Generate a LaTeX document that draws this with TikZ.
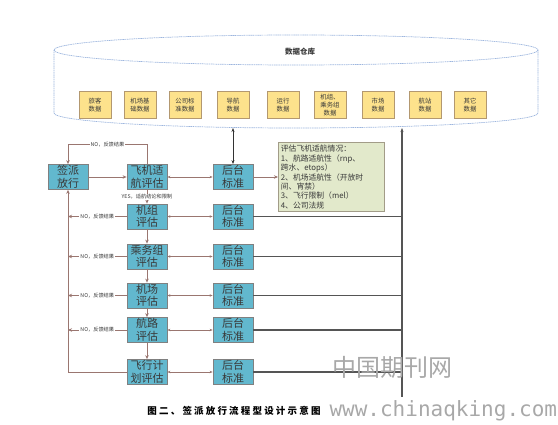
\documentclass[tikz,border=0pt]{standalone}
\usepackage{fontspec}
\newfontfamily\cjk{Noto Sans CJK SC}
\newfontfamily\wmfont{DejaVu Sans Mono}
\usetikzlibrary{arrows.meta,calc}
\definecolor{dbblue}{HTML}{9DB6DE}
\definecolor{datafill}{HTML}{FDE28C}
\definecolor{dataedge}{HTML}{B39870}
\definecolor{flowteal}{HTML}{62B8CE}
\definecolor{flowedge}{HTML}{808080}
\definecolor{notefill}{HTML}{E2E9CB}
\definecolor{noteedge}{HTML}{A29C88}
\definecolor{linkbrown}{HTML}{9A7670}
\definecolor{busgrey}{HTML}{555555}
\definecolor{inkgrey}{HTML}{3A3A3A}
\definecolor{markgrey}{HTML}{A8A8A8}

\begin{document}
\begin{tikzpicture}[x=1pt,y=-1pt,
  font=\cjk,
  dbline/.style={draw=dbblue,line width=0.7pt,dash pattern=on 1.2pt off 0.6pt},
  datanode/.style={rectangle,draw=dataedge,line width=0.8pt,fill=datafill,minimum width=32pt,minimum height=27pt,inner sep=0pt,align=center,text=inkgrey,font=\cjk\fontsize{6.4}{7.8}\selectfont},
  flownode/.style={rectangle,draw=flowedge,line width=0.8pt,fill=flowteal,minimum width=40pt,minimum height=25pt,inner sep=0pt,align=center,text=inkgrey,font=\cjk\fontsize{11}{12.5}\selectfont},
  notebox/.style={rectangle,draw=noteedge,line width=0.8pt,fill=notefill,text width=101pt,minimum height=68pt,inner sep=2.5pt,align=left,text=inkgrey,font=\cjk\fontsize{7.8}{9.4}\selectfont},
  arr/.style={-{Stealth[length=4pt,width=3.5pt]},line width=0.7pt,linkbrown},
  biarr/.style={{Stealth[length=3pt,width=2.5pt]}-{Stealth[length=3pt,width=2.5pt]},line width=0.7pt,linkbrown},
  dbarr/.style={{Stealth[length=4pt,width=3pt]}-{Stealth[length=4pt,width=3pt]},line width=0.8pt,black!80},
  busline/.style={line width=1.2pt,busgrey},
  arrlabel/.style={font=\cjk\fontsize{5.2}{6}\selectfont,text=inkgrey,fill=white,inner xsep=1pt,inner ysep=0.5pt},
]
\useasboundingbox (0,0) rectangle (558,425);

% Data warehouse (top)
\draw[dbline] (296,50) ellipse [x radius=242, y radius=15];
\draw[dbline] (54,50) -- (54,113) arc[start angle=180,end angle=360,x radius=242pt,y radius=15pt] -- (538,50);
\node[font=\cjk\bfseries\fontsize{7.5}{8}\selectfont,text=inkgrey] (dbtitle) at (300,52) {数据仓库};
\node[datanode] (pax)    at (95,105)  {旅客\\数据};
\node[datanode] (aptdat) at (140,105) {机场基\\础数据};
\node[datanode] (coydat) at (185,105) {公司标\\准数据};
\node[datanode] (navdat) at (233,105) {导航\\数据};
\node[datanode] (opsdat) at (283,105) {运行\\数据};
\node[datanode] (crwdat) at (330,105) {机组、\\乘务组\\数据};
\node[datanode] (mktdat) at (378,105) {市场\\数据};
\node[datanode] (stndat) at (425,105) {航站\\数据};
\node[datanode] (othdat) at (470,105) {其它\\数据};
\coordinate (dbbot1) at (233,128);
\coordinate (dbbot2) at (402,128);
\coordinate (busend) at (402,397);
\coordinate (fbline) at (68,300);

% Evaluation chain (left)
\node[flownode] (sign)  at (68,177)    {签派\\放行};
\node[flownode] (air)   at (147,177)   {飞机适\\航评估};
\node[flownode] (crew)  at (147,216.5) {机组\\评估};
\node[flownode] (cabin) at (147,256.5) {乘务组\\评估};
\node[flownode] (apt)   at (147,295.5) {机场\\评估};
\node[flownode] (route) at (147,330)   {航路\\评估};
\node[flownode] (plan)  at (147,372)   {飞行计\\划评估};
\draw[arr] (sign) -- (air);
\draw[arr] (air.north) -- ++(0,-20) -| node[arrlabel,pos=0.25]{NO，反馈结果} (sign.north);
\draw[arr] (air)   -- node[arrlabel]{YES，适航结论和限制} (crew);
\draw[arr] (crew)  -- (cabin);
\draw[arr] (cabin) -- (apt);
\draw[arr] (apt)   -- (route);
\draw[arr] (route) -- (plan);
\draw[arr] (crew.west)  -- node[arrlabel]{NO，反馈结果} (crew.west -| fbline);
\draw[arr] (cabin.west) -- node[arrlabel]{NO，反馈结果} (cabin.west -| fbline);
\draw[arr] (apt.west)   -- node[arrlabel]{NO，反馈结果} (apt.west -| fbline);
\draw[arr] (route.west) -- node[arrlabel]{NO，反馈结果} (route.west -| fbline);
\draw[arr] (plan.west) -| (sign.south);

% Back-office standards (middle)
\node[flownode] (std1) at (233,177)   {后台\\标准};
\node[flownode] (std2) at (233,216.5) {后台\\标准};
\node[flownode] (std3) at (233,256.5) {后台\\标准};
\node[flownode] (std4) at (233,295.5) {后台\\标准};
\node[flownode] (std5) at (233,330)   {后台\\标准};
\node[flownode] (std6) at (233,372)   {后台\\标准};
\draw[biarr] (air)   -- (std1);
\draw[biarr] (crew)  -- (std2);
\draw[biarr] (cabin) -- (std3);
\draw[biarr] (apt)   -- (std4);
\draw[biarr] (route) -- (std5);
\draw[biarr] (plan)  -- (std6);
\draw[dbarr] (std1) -- (dbbot1);
\node[notebox,anchor=west] (note) at (278,177) {评估飞机适航情况：\\1、航路适航性（rnp、\\跨水、etops）\\2、机场适航性（开放时\\间、宵禁）\\3、飞行限制（mel）\\4、公司法规};
\draw[arr] (std1) -- (note);

% Data bus (right)
\draw[busline,-{Stealth[length=4pt,width=3pt]}] (busend) -- (dbbot2);
\draw[busline] (std2.east) -- (std2.east -| busend);
\draw[busline] (std3.east) -- (std3.east -| busend);
\draw[busline] (std4.east) -- (std4.east -| busend);
\draw[busline] (std5.east) -- (std5.east -| busend);
\draw[busline] (std6.east) -- (std6.east -| busend);

% Caption and watermark
\node[font=\cjk\bfseries\fontsize{9.5}{10}\selectfont\addfontfeature{LetterSpace=23},text=black] (caption) at (234,411) {图二、签派放行流程型设计示意图};
\node[font=\cjk\fontsize{24}{26}\selectfont,text=markgrey] (wmcn) at (392,367) {中国期刊网};
\node[font=\wmfont\fontsize{21}{22}\selectfont,text=markgrey,anchor=west] (wmurl) at (326,411) {www.chinaqking.com};
\end{tikzpicture}
\end{document}
